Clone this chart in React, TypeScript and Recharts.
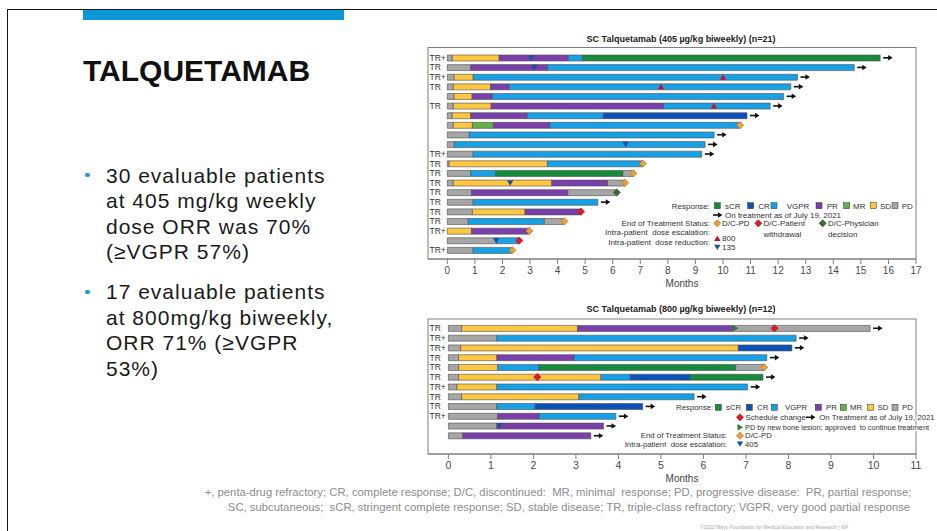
import React from "react";
import { Bar, Cell, ComposedChart, ReferenceDot, XAxis, YAxis } from "recharts";

type Seg = [string, number];

const FONT = "'Liberation Sans', Arial, Helvetica, sans-serif";

const COLORS: Record<string, string> = {
  sCR: "#178b3c",
  CR: "#0b52b8",
  VGPR: "#16a1e6",
  PR: "#7b3fab",
  MR: "#62b04a",
  SD: "#ffc641",
  PD: "#a6a6a6",
};
const RESPONSES = ["sCR", "CR", "VGPR", "PR", "MR", "SD", "PD"];

// 405 µg/kg panel: segments are [response, month the segment ends]
const topLabels = ["TR+", "TR", "TR+", "TR", "", "TR", "", "", "", "", "TR+", "TR", "TR", "TR", "TR", "TR", "TR", "TR", "TR+", "", "TR+"];
const topSegments: Seg[][] = [
  [["PD", 0.18], ["SD", 1.88], ["PR", 4.39], ["VGPR", 4.9], ["sCR", 15.7]],
  [["PD", 0.85], ["PR", 3.64], ["VGPR", 14.76]],
  [["PD", 0.25], ["SD", 0.94], ["VGPR", 12.7]],
  [["PD", 0.22], ["SD", 1.57], ["PR", 2.25], ["VGPR", 12.46]],
  [["PD", 0.25], ["SD", 0.9], ["PR", 1.63], ["VGPR", 12.2]],
  [["PD", 0.22], ["SD", 1.59], ["PR", 7.84], ["VGPR", 11.71]],
  [["PD", 0.18], ["SD", 0.85], ["PR", 2.9], ["VGPR", 5.66], ["CR", 10.87]],
  [["PD", 0.22], ["SD", 0.91], ["MR", 1.67], ["PR", 3.72], ["VGPR", 10.62]],
  [["PD", 0.8], ["VGPR", 9.68]],
  [["PD", 0.25], ["VGPR", 9.35]],
  [["PD", 0.94], ["VGPR", 9.23]],
  [["PD", 0.07], ["SD", 3.63], ["VGPR", 7.09]],
  [["PD", 0.85], ["VGPR", 1.76], ["sCR", 6.37], ["PD", 6.75]],
  [["PD", 0.22], ["SD", 3.79], ["PR", 5.81], ["PD", 6.45]],
  [["PD", 0.88], ["PR", 4.37], ["PD", 6.15]],
  [["PD", 0.94], ["VGPR", 5.46]],
  [["PD", 0.91], ["SD", 2.82], ["PR", 4.85]],
  [["PD", 0.76], ["VGPR", 3.52], ["PD", 4.25]],
  [["SD", 0.88], ["PR", 2.98]],
  [["PD", 1.79], ["VGPR", 2.61]],
  [["PD", 0.94], ["VGPR", 2.36]],
];
// status at the end of each bar: arrow = still on treatment
const topEnds = ["arrow", "arrow", "arrow", "arrow", "arrow", "arrow", "arrow", "dcpd", "arrow", "arrow", "arrow", "dcpd", "dcpd", "dcpd", "dcphys", "arrow", "dcpt", "dcpd", "dcpd", "dcpt", "dcpd"];
// [row, month, kind]
const topDoses: [number, number, string][] = [
  [1, 3.04, "down"],
  [2, 3.16, "down"],
  [3, 10.0, "up"],
  [4, 7.75, "up"],
  [6, 9.67, "up"],
  [10, 6.47, "down"],
  [14, 2.28, "down"],
  [20, 1.77, "down"],
];
const topTicks = [0, 1, 2, 3, 4, 5, 6, 7, 8, 9, 10, 11, 12, 13, 14, 15, 16, 17];

// 800 µg/kg panel
const bottomLabels = ["TR", "TR+", "TR+", "TR", "TR", "TR", "TR+", "TR", "TR", "TR+", "", ""];
const bottomSegments: Seg[][] = [
  [["PD", 0.31], ["SD", 3.04], ["PR", 6.69], ["PD", 9.92]],
  [["PD", 1.14], ["VGPR", 8.18]],
  [["PD", 0.29], ["SD", 6.82], ["CR", 8.08]],
  [["PD", 0.24], ["SD", 1.14], ["PR", 2.96], ["VGPR", 7.49]],
  [["PD", 0.24], ["SD", 1.16], ["VGPR", 2.13], ["sCR", 6.76], ["PD", 7.43]],
  [["PD", 0.24], ["SD", 3.59], ["VGPR", 4.28], ["CR", 5.69], ["sCR", 7.4]],
  [["PD", 0.2], ["SD", 1.14], ["VGPR", 7.04]],
  [["PD", 0.31], ["SD", 3.07], ["VGPR", 5.78]],
  [["PD", 1.14], ["VGPR", 2.04], ["CR", 4.57]],
  [["PD", 1.16], ["PR", 2.13], ["VGPR", 3.94]],
  [["PD", 1.14], ["PR", 3.65]],
  [["PD", 0.34], ["PR", 3.35]],
];
const bottomEnds = ["arrow", "arrow", "arrow", "arrow", "dcpd", "arrow", "arrow", "arrow", "arrow", "arrow", "arrow", "arrow"];
const bottomDoses: [number, number, string][] = [
  [1, 6.75, "bone"],
  [1, 7.67, "sched"],
  [6, 2.09, "sched"],
  [11, 1.2, "down"],
];
const bottomTicks = [0, 1, 2, 3, 4, 5, 6, 7, 8, 9, 10, 11];

function diamond(cx: number, cy: number, r: number) {
  return `${cx},${cy - r} ${cx + r},${cy} ${cx},${cy + r} ${cx - r},${cy}`;
}

function Marker({ kind, cx, cy }: { kind: string; cx: number; cy: number }) {
  switch (kind) {
    case "dcpd":
      return <polygon points={diamond(cx, cy, 3.6)} fill="#e9a23b" stroke="#b0701c" strokeWidth={0.6} />;
    case "dcpt":
    case "sched":
      return <polygon points={diamond(cx, cy, 3.6)} fill="#e3192b" stroke="#a00f1c" strokeWidth={0.6} />;
    case "dcphys":
      return <polygon points={diamond(cx, cy, 3.6)} fill="#3d6b35" stroke="#274a22" strokeWidth={0.6} />;
    case "up":
      return <polygon points={`${cx - 3.2},${cy + 2.6} ${cx + 3.2},${cy + 2.6} ${cx},${cy - 2.8}`} fill="#c8102e" />;
    case "down":
      return <polygon points={`${cx - 3.2},${cy - 2.6} ${cx + 3.2},${cy - 2.6} ${cx},${cy + 2.8}`} fill="#1c4f9c" />;
    case "bone":
      return <polygon points={`${cx - 2.5},${cy - 3.2} ${cx + 3},${cy} ${cx - 2.5},${cy + 3.2}`} fill="#2d7a35" />;
    case "arrow":
      return (
        <g>
          <line x1={cx + 3} y1={cy} x2={cx + 9} y2={cy} stroke="#111" strokeWidth={1.6} />
          <polygon points={`${cx + 8},${cy - 2.8} ${cx + 12.5},${cy} ${cx + 8},${cy + 2.8}`} fill="#111" />
        </g>
      );
    default:
      return null;
  }
}

type PanelProps = {
  prefix: string;
  labels: string[];
  segments: Seg[][];
  ends: string[];
  doses: [number, number, string][];
  ticks: number[];
  domain: [number, number];
  height: number;
  margin: { top: number; right: number; bottom: number; left: number };
  padding: { top: number; bottom: number };
  axisHeight: number;
  tickFont: number;
  monthsOffset: number;
};

function SwimmerPanel(p: PanelProps) {
  const maxSeg = Math.max(...p.segments.map((s) => s.length));
  const rows = p.segments.map((segs, i) => {
    const row: Record<string, any> = { id: p.prefix + (i + 1) };
    let prev = 0;
    segs.forEach(([, end], k) => {
      row["s" + k] = +(end - prev).toFixed(3);
      prev = end;
    });
    row.end = prev;
    return row;
  });
  const labelById: Record<string, string> = {};
  rows.forEach((r, i) => (labelById[r.id] = p.labels[i]));

  const YTick = (t: any) => (
    <text x={t.x + 1.5} y={t.y} dy="0.35em" fontSize={8.5} fill="#333" fontFamily={FONT} textAnchor="start">
      {labelById[t.payload.value]}
    </text>
  );

  return (
    <ComposedChart layout="vertical" width={937} height={p.height} data={rows} margin={p.margin}>
      <XAxis
        type="number"
        domain={p.domain}
        ticks={p.ticks}
        interval={0}
        allowDataOverflow
        height={p.axisHeight}
        tickSize={5}
        tickMargin={3}
        stroke="#7f7f7f"
        tick={{ fontSize: p.tickFont, fill: "#4a4a4a", fontFamily: FONT }}
        label={{ value: "Months", position: "insideBottom", offset: p.monthsOffset, dx: 10, fontSize: 10, fill: "#444", fontFamily: FONT }}
      />
      <YAxis
        type="category"
        dataKey="id"
        width={20}
        interval={0}
        padding={p.padding}
        axisLine={false}
        tickLine={false}
        tickSize={0}
        tickMargin={0}
        tick={<YTick />}
      />
      {Array.from({ length: maxSeg }, (_, k) => (
        <Bar key={k} dataKey={"s" + k} stackId="a" barSize={6} isAnimationActive={false} stroke="#4d4d4d" strokeWidth={0.6}>
          {p.segments.map((segs, i) => (
            <Cell key={i} fill={segs[k] ? COLORS[segs[k][0]] : "none"} />
          ))}
        </Bar>
      ))}
      {p.doses.map(([r, m, kind], i) => (
        <ReferenceDot key={"d" + i} x={m} y={p.prefix + r} r={3} shape={(s: any) => <Marker kind={kind} cx={s.cx} cy={s.cy} />} />
      ))}
      {rows.map((r, i) => (
        <ReferenceDot key={"e" + i} x={r.end} y={r.id} r={3} shape={(s: any) => <Marker kind={p.ends[i]} cx={s.cx} cy={s.cy} />} />
      ))}
    </ComposedChart>
  );
}

function LegendText({ x, y, children, anchor = "start", size = 8 }: { x: number; y: number; children: React.ReactNode; anchor?: string; size?: number }) {
  return (
    <text
      x={x}
      y={y}
      dy="0.35em"
      fontSize={size}
      fill="#333"
      textAnchor={anchor as any}
      stroke="#fff"
      strokeWidth={2.5}
      paintOrder="stroke"
      fontFamily={FONT}
      style={{ whiteSpace: "pre" }}
    >
      {children}
    </text>
  );
}

function Box({ x, y, color }: { x: number; y: number; color: string }) {
  return <rect x={x - 3} y={y - 3} width={6} height={6} fill={color} stroke="#333" strokeWidth={0.5} />;
}

function Overlay() {
  const topBoxX = [717.3, 750.7, 774, 819, 846.7, 873.3, 895];
  const topTextX = [725, 758.3, 786.7, 826.7, 853, 880, 901.7];
  const botBoxX = [718.3, 749.3, 774.3, 818.3, 843.3, 870.7, 895];
  const botTextX = [726, 757, 785, 826, 850, 877.5, 902];
  const bs = 7.8;
  return (
    <svg width={937} height={531} style={{ position: "absolute", left: 0, top: 0, pointerEvents: "none" }}>
      <rect x={428} y={47.5} width={488} height={211.5} fill="none" stroke="#7f7f7f" strokeWidth={1} />
      <rect x={428} y={319} width={488} height={135} fill="none" stroke="#7f7f7f" strokeWidth={1} />
      <text x={681} y={39} dy="0.35em" textAnchor="middle" fontSize={9} fontWeight="bold" fill="#222" fontFamily={FONT}>
        SC Talquetamab (405 µg/kg biweekly) (n=21)
      </text>
      <text x={681} y={309} dy="0.35em" textAnchor="middle" fontSize={9} fontWeight="bold" fill="#222" fontFamily={FONT}>
        SC Talquetamab (800 µg/kg biweekly) (n=12)
      </text>

      {/* top legend */}
      <LegendText x={710} y={205.7} anchor="end">Response:</LegendText>
      {RESPONSES.map((r, i) => (
        <g key={r}>
          <Box x={topBoxX[i]} y={205.7} color={COLORS[r]} />
          <LegendText x={topTextX[i]} y={205.7}>{r}</LegendText>
        </g>
      ))}
      <Marker kind="arrow" cx={710} cy={215} />
      <LegendText x={725} y={215}>On treatment as of July 19, 2021</LegendText>
      <LegendText x={710} y={223.3} anchor="end">End of Treatment Status:</LegendText>
      <Marker kind="dcpd" cx={717.3} cy={223.3} />
      <LegendText x={722} y={223.3}>D/C-PD</LegendText>
      <Marker kind="dcpt" cx={758.3} cy={223.3} />
      <LegendText x={763.5} y={223.3}>D/C-Patient</LegendText>
      <LegendText x={763.5} y={234.5}>withdrawal</LegendText>
      <Marker kind="dcphys" cx={822.7} cy={223.3} />
      <LegendText x={828} y={223.3}>D/C-Physician</LegendText>
      <LegendText x={828} y={234.5}>decision</LegendText>
      <LegendText x={710} y={232.3} anchor="end">Intra-patient  dose escalation:</LegendText>
      <Marker kind="up" cx={717.3} cy={238.3} />
      <LegendText x={722} y={238.3}>800</LegendText>
      <LegendText x={710} y={241.7} anchor="end">Intra-patient  dose reduction:</LegendText>
      <Marker kind="down" cx={717.3} cy={247.3} />
      <LegendText x={722} y={247.3}>135</LegendText>

      {/* bottom legend */}
      <LegendText x={713.3} y={407.3} anchor="end" size={bs}>Response:</LegendText>
      {RESPONSES.map((r, i) => (
        <g key={r}>
          <Box x={botBoxX[i]} y={407.3} color={COLORS[r]} />
          <LegendText x={botTextX[i]} y={407.3} size={bs}>{r}</LegendText>
        </g>
      ))}
      <Marker kind="sched" cx={740} cy={417.3} />
      <LegendText x={745.5} y={417.3} size={bs}>Schedule change</LegendText>
      <Marker kind="arrow" cx={803} cy={417.3} />
      <LegendText x={819.3} y={417.3} size={bs}>On Treatment as of July 19, 2021</LegendText>
      <Marker kind="bone" cx={740} cy={427.3} />
      <LegendText x={745} y={427.3} size={7.4}>PD by new bone lesion; approved  to continue treatment</LegendText>
      <LegendText x={727} y={435.7} anchor="end" size={bs}>End of Treatment Status:</LegendText>
      <Marker kind="dcpd" cx={740} cy={435.7} />
      <LegendText x={745} y={435.7} size={bs}>D/C-PD</LegendText>
      <LegendText x={727} y={444} anchor="end" size={bs}>Intra-patient  dose escalation:</LegendText>
      <Marker kind="down" cx={740} cy={444} />
      <LegendText x={745} y={444} size={bs}>405</LegendText>

      {/* footnote */}
      <text x={558} y={492} dy="0.35em" textAnchor="middle" fontSize={11.3} fill="#8c8c8c" fontFamily={FONT} style={{ whiteSpace: "pre" }}>
        +, penta-drug refractory; CR, complete response; D/C, discontinued:  MR, minimal  response; PD, progressive disease:  PR, partial response;
      </text>
      <text x={569} y={507} dy="0.35em" textAnchor="middle" fontSize={11.3} fill="#8c8c8c" fontFamily={FONT} style={{ whiteSpace: "pre" }}>
        SC, subcutaneous;  sCR, stringent complete response; SD, stable disease; TR, triple-class refractory; VGPR, very good partial response
      </text>
      <text x={700} y={527} dy="0.35em" fontSize={5} fill="#aaa" fontFamily={FONT}>
        ©2022 Mayo Foundation for Medical Education and Research | WF
      </text>
    </svg>
  );
}

const bulletStyle: React.CSSProperties = {
  position: "absolute",
  left: 106,
  width: 300,
  fontFamily: FONT,
  fontSize: 21,
  lineHeight: "25.5px",
  letterSpacing: 1,
  color: "#1a1a1a",
};

function Dot({ top }: { top: number }) {
  return <div style={{ position: "absolute", left: 85, top: top - 2.2, width: 4.5, height: 4.5, borderRadius: "50%", background: "#1a9ad6" }} />;
}

export default function App() {
  return (
    <div style={{ position: "absolute", left: 0, top: 0, width: 937, height: 531, background: "#fff", overflow: "hidden" }}>
      <div style={{ position: "absolute", left: 7, top: 9, width: 940, height: 530, borderTop: "1.5px solid #1a1a1a", borderLeft: "1.5px solid #1a1a1a" }} />
      <div style={{ position: "absolute", left: 83, top: 10, width: 261, height: 10, background: "#0a98d8" }} />
      <div style={{ position: "absolute", left: 83, top: 55.8, fontFamily: FONT, fontSize: 30, lineHeight: "30px", fontWeight: "bold", color: "#111" }}>
        TALQUETAMAB
      </div>
      <Dot top={175} />
      <div style={{ ...bulletStyle, top: 162.5 }}>
        30 evaluable patients
        <br />at 405 mg/kg weekly
        <br />dose ORR was 70%
        <br />(≥VGPR 57%)
      </div>
      <Dot top={291.7} />
      <div style={{ ...bulletStyle, top: 279.2 }}>
        17 evaluable patients
        <br />at 800mg/kg biweekly,
        <br />ORR 71% (≥VGPR
        <br />53%)
      </div>

      <div style={{ position: "absolute", left: 0, top: 0 }}>
        <SwimmerPanel
          prefix="T"
          labels={topLabels}
          segments={topSegments}
          ends={topEnds}
          doses={topDoses}
          ticks={topTicks}
          domain={[-0.7, 17]}
          height={300}
          margin={{ top: 47, right: 21, bottom: 0, left: 408 }}
          padding={{ top: 6, bottom: 4 }}
          axisHeight={41}
          tickFont={10}
          monthsOffset={13}
        />
      </div>
      <div style={{ position: "absolute", left: 0, top: 300 }}>
        <SwimmerPanel
          prefix="B"
          labels={bottomLabels}
          segments={bottomSegments}
          ends={bottomEnds}
          doses={bottomDoses}
          ticks={bottomTicks}
          domain={[-0.48, 11]}
          height={190}
          margin={{ top: 19, right: 21, bottom: 0, left: 408 }}
          padding={{ top: 4.4, bottom: 13.4 }}
          axisHeight={36}
          tickFont={10.5}
          monthsOffset={8}
        />
      </div>
      <Overlay />
    </div>
  );
}
